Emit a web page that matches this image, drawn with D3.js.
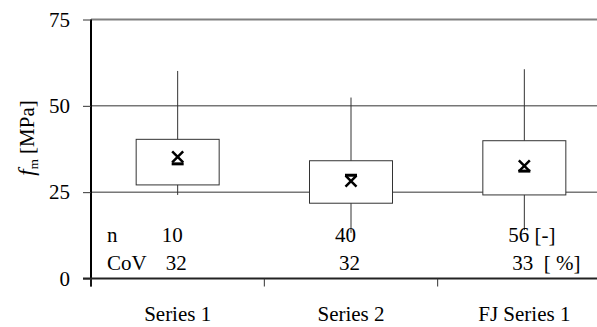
<!DOCTYPE html>
<html>
<head>
<meta charset="utf-8">
<script src="https://cdn.jsdelivr.net/npm/d3@7"></script>
<style>
  body { margin: 0; background: #fff; }
  svg text { font-family: "Liberation Serif", "Times New Roman", "DejaVu Serif", serif; font-size: 21px; fill: #000; }
</style>
</head>
<body>
<div id="chart"></div>
<script>
// values
categories = ["Series 1", "Series 2", "FJ Series 1"]
whiskerLow = [24.2, 13.2, 14.0]
boxLow = [27.1, 21.8, 24.2]
boxHigh = [40.3, 34.1, 39.9]
whiskerHigh = [60.1, 52.4, 60.6]
means = [35.2, 28.2, 32.6]
medians = [33.2, 29.9, 31.1]
nValues = [10, 40, 56]
covValues = [32, 32, 33]
yTicks = [0, 25, 50, 75]

width = 597
height = 327

const svg = d3.select("#chart").append("svg")
    .attr("width", width)
    .attr("height", height);

const y = d3.scaleLinear().domain([0, 75]).range([278.5, 19.5]);
const x = d3.scaleBand().domain(categories).range([91, 611]).padding(0);
const boxW = 83;
const cx = d => x(d) + x.bandwidth() / 2;

// gridlines
svg.append("g")
    .selectAll("line")
    .data(yTicks.filter(t => t > 0))
    .join("line")
    .attr("x1", 91).attr("x2", width)
    .attr("y1", d => y(d)).attr("y2", d => y(d))
    .attr("stroke", d => d === 75 ? "#808080" : "#333")
    .attr("stroke-width", d => d === 75 ? 2 : 1);

const rows = categories.map((c, i) => ({
    c, lo: whiskerLow[i], q1: boxLow[i], q3: boxHigh[i], hi: whiskerHigh[i],
    mean: means[i], median: medians[i]
}));

const g = svg.append("g").selectAll("g").data(rows).join("g");

// whiskers
g.append("line")
    .attr("x1", d => cx(d.c)).attr("x2", d => cx(d.c))
    .attr("y1", d => y(d.lo)).attr("y2", d => y(d.hi))
    .attr("stroke", "#333").attr("stroke-width", 1);

// boxes
g.append("rect")
    .attr("x", d => cx(d.c) - boxW / 2)
    .attr("width", boxW)
    .attr("y", d => y(d.q3))
    .attr("height", d => y(d.q1) - y(d.q3))
    .attr("fill", "#fff")
    .attr("stroke", "#333").attr("stroke-width", 1);

// median dash
g.append("line")
    .attr("x1", d => cx(d.c) - 6).attr("x2", d => cx(d.c) + 6)
    .attr("y1", d => y(d.median)).attr("y2", d => y(d.median))
    .attr("stroke", "#000").attr("stroke-width", 3);

// mean cross
g.append("path")
    .attr("d", d => {
        const px = cx(d.c), py = y(d.mean), s = 5.5;
        return `M${px - s},${py - s}L${px + s},${py + s}M${px - s},${py + s}L${px + s},${py - s}`;
    })
    .attr("stroke", "#000").attr("stroke-width", 2.5).attr("fill", "none");

// y axis
const yAxis = svg.append("g")
    .attr("transform", "translate(91,0)")
    .call(d3.axisLeft(y).tickValues(yTicks).tickSize(8).tickPadding(13).tickFormat(d3.format("d")))
    .attr("font-size", null)
    .attr("font-family", null);
yAxis.select(".domain").attr("stroke", "#000").attr("stroke-width", 2).attr("d", `M0,${y(75)}V${y(0) + 8}`);
yAxis.selectAll(".tick line").attr("stroke", "#333").attr("stroke-width", 1);
yAxis.selectAll(".tick text")
    .style("font-family", "'Liberation Serif', 'Times New Roman', serif")
    .style("font-size", "21px");

// x axis
const xAxisG = svg.append("g");
xAxisG.append("line")
    .attr("x1", 83).attr("x2", width)
    .attr("y1", y(0)).attr("y2", y(0))
    .attr("stroke", "#222").attr("stroke-width", 2);
xAxisG.selectAll(".xt")
    .data(categories)
    .join("line")
    .attr("class", "xt")
    .attr("x1", d => x(d)).attr("x2", d => x(d))
    .attr("y1", y(0)).attr("y2", y(0) + 8)
    .attr("stroke", "#333");
xAxisG.selectAll(".xl")
    .data(categories)
    .join("text")
    .attr("class", "xl")
    .attr("x", d => cx(d))
    .attr("y", 321)
    .attr("text-anchor", "middle")
    .text(d => d);

// n and CoV rows
svg.append("text").attr("x", 107).attr("y", 242).text("n");
svg.append("text").attr("x", 107).attr("y", 270).text("CoV");

svg.append("g").selectAll("text")
    .data(nValues)
    .join("text")
    .attr("x", (d, i) => cx(categories[i]) - 16)
    .attr("y", 242)
    .style("white-space", "pre")
    .text((d, i) => i === nValues.length - 1 ? d + " [-]" : d);

svg.append("g").selectAll("text")
    .data(covValues)
    .join("text")
    .attr("x", (d, i) => cx(categories[i]) - 12)
    .attr("y", 270)
    .style("white-space", "pre")
    .text((d, i) => i === covValues.length - 1 ? d + "  [ %]" : d);

// y label
const yl = svg.append("text")
    .attr("transform", "translate(34,138) rotate(-90)")
    .attr("text-anchor", "middle");
yl.append("tspan").style("font-style", "italic").style("font-size", "23px").text("f");
yl.append("tspan").style("font-size", "13px").attr("dy", 4).text("m");
yl.append("tspan").attr("dy", -4).text(" [MPa]");
</script>
</body>
</html>
